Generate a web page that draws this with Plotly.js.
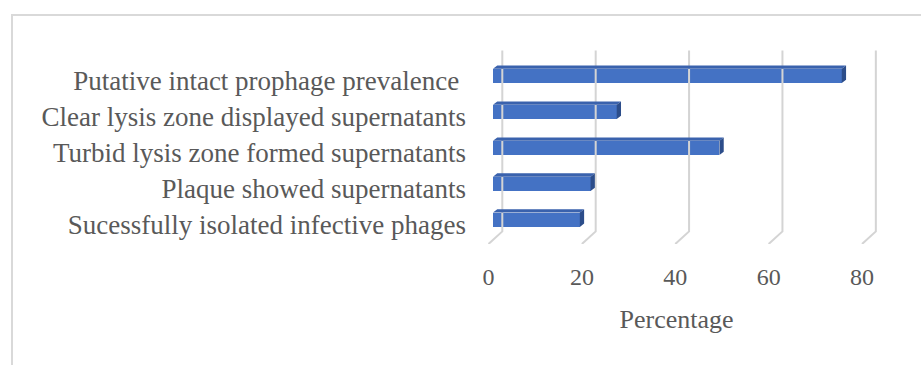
<!DOCTYPE html>
<html>
<head>
<meta charset="utf-8">
<script src="https://cdn.plot.ly/plotly-3.0.1.min.js"></script>
<style>
  html, body { margin: 0; padding: 0; background: #ffffff; }
  #wrap { position: relative; width: 921px; height: 365px; overflow: hidden; }
  #frame { position: absolute; left: 11px; top: 14px; width: 960px; height: 400px;
           border-left: 2px solid #d9d9d9; border-top: 2px solid #d9d9d9; }
  #chart { position: absolute; left: 0; top: 0; width: 921px; height: 365px; }
</style>
</head>
<body>
<div id="wrap">
  <div id="frame"></div>
  <div id="chart"></div>
</div>
<script>
// Categories, listed top to bottom
const categories = [
  "Putative intact prophage prevalence\u00a0",
  "Clear lysis zone displayed supernatants",
  "Turbid lysis zone formed supernatants",
  "Plaque showed supernatants",
  "Sucessfully isolated infective phages"
];
// Percentage for each category
const percentages = [74.7, 26.5, 48.5, 20.9, 18.6];
// Value axis ticks
const xTicks = [0, 20, 40, 60, 80];

// 3-D look: depth offsets in axis units
const BAR_DEPTH = 0.96;      // bar front face sits this far behind the floor front edge
const BAR_DX = 0.92;         // bar extrusion, horizontal
const BAR_DY = 0.092;        // bar extrusion, vertical
const BAR_OFFSET = -0.326;   // bar position relative to its category tick
const BAR_WIDTH = 0.397;
const WALL_DX = 2.956;       // back wall behind the floor front edge
const WALL_TOP = -0.836;
const FLOOR_BACK = 4.197;
const FLOOR_FRONT = 4.547;

const FONT = "Liberation Serif, 'Times New Roman', serif";
const TEXT = "#595959";

const idx = categories.map((_, i) => i);

// grid: vertical line on the back wall, then the floor edge coming forward
const gx = [], gy = [];
xTicks.forEach(t => {
  gx.push(t + WALL_DX, t + WALL_DX, t, null);
  gy.push(WALL_TOP, FLOOR_BACK, FLOOR_FRONT, null);
});

// top and side faces of each bar
const tx = [], ty = [], sx = [], sy = [];
percentages.forEach((v, i) => {
  const y0 = i + BAR_OFFSET;            // upper edge of the front face
  const y1 = i + BAR_OFFSET + BAR_WIDTH; // lower edge of the front face
  const x0 = BAR_DEPTH, x1 = BAR_DEPTH + v;
  tx.push(x0, x1, x1 + BAR_DX, x0 + BAR_DX, x0, null);
  ty.push(y0, y0, y0 - BAR_DY, y0 - BAR_DY, y0, null);
  sx.push(x1, x1 + BAR_DX, x1 + BAR_DX, x1, x1, null);
  sy.push(y0, y0 - BAR_DY, y1 - BAR_DY, y1, y0, null);
});

const traces = [
  { type: "scatter", mode: "lines", x: gx, y: gy, hoverinfo: "skip",
    line: { color: "#d4d4d4", width: 2 }, showlegend: false },
  { type: "bar", orientation: "h", x: percentages, y: idx, base: BAR_DEPTH,
    width: BAR_WIDTH, offset: BAR_OFFSET,
    marker: { color: "#4472c4", line: { width: 0 } }, showlegend: false },
  { type: "scatter", mode: "lines", x: tx, y: ty, fill: "toself",
    fillcolor: "#3a62ad", line: { width: 0, color: "#3a62ad" }, hoverinfo: "skip", showlegend: false },
  { type: "scatter", mode: "lines", x: sx, y: sy, fill: "toself",
    fillcolor: "#2c4d8a", line: { width: 0, color: "#2c4d8a" }, hoverinfo: "skip", showlegend: false }
];

const layout = {
  width: 921, height: 365,
  margin: { l: 470, r: 38, t: 45, b: 120.7, pad: 0 },
  paper_bgcolor: "rgba(0,0,0,0)",
  plot_bgcolor: "rgba(0,0,0,0)",
  font: { family: FONT, color: TEXT, size: 26 },
  bargap: 0,
  xaxis: {
    range: [-3.962, 84.49],
    tickmode: "array", tickvals: xTicks, ticktext: xTicks.map(String),
    showgrid: false, zeroline: false, showline: false, ticks: "",
    ticklabelstandoff: 16,
    tickfont: { family: FONT, size: 24, color: TEXT },
    title: { text: "Percentage", standoff: 20, font: { family: FONT, size: 26, color: TEXT } }
  },
  yaxis: {
    range: [FLOOR_FRONT, -0.989],
    tickmode: "array", tickvals: idx, ticktext: categories,
    showgrid: false, zeroline: false, showline: false, ticks: "",
    ticklabelstandoff: 3,
    tickfont: { family: FONT, size: 27, color: TEXT }
  },
  showlegend: false
};

Plotly.newPlot("chart", traces, layout, { staticPlot: true, displayModeBar: false });
</script>
</body>
</html>
